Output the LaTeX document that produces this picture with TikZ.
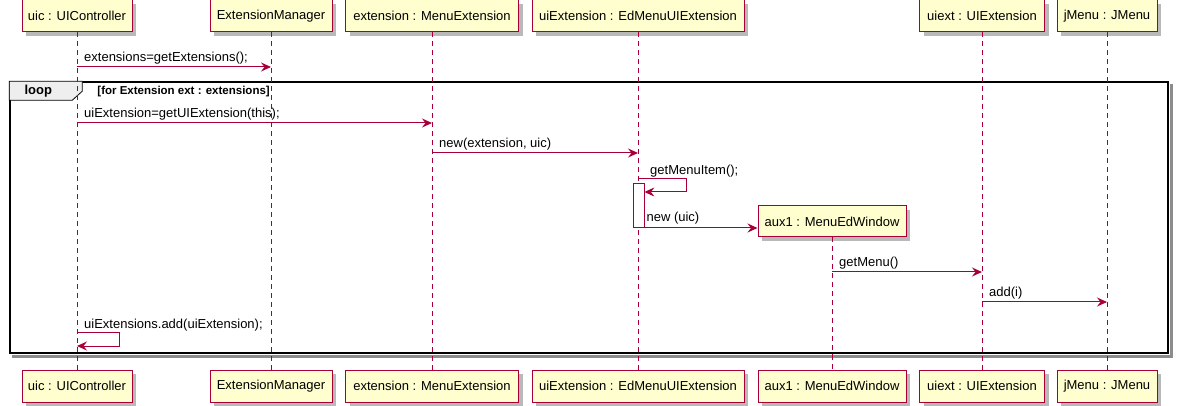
\documentclass[tikz,border=0pt]{standalone}
\usepackage{fontspec}
\setmainfont{Liberation Sans}
\usetikzlibrary{arrows.meta, shadows}
\definecolor{umlred}{HTML}{A80036}
\definecolor{umlfill}{HTML}{FEFECE}
\definecolor{tabgray}{HTML}{EEEEEE}
\tikzset{
  part/.style    ={draw=umlred, fill=umlfill, line width=1pt, minimum height=32pt, inner sep=0pt,
                   font=\fontsize{13}{15}\selectfont,
                   drop shadow={shadow xshift=4pt, shadow yshift=-4pt, fill=black!55, opacity=0.5}},
  life/.style    ={umlred, line width=0.8pt, dash pattern=on 5pt off 4pt},
  msg/.style     ={-{Stealth[length=10pt, width=9pt, inset=3.5pt]}, umlred, line width=1pt},   % call
  mlbl/.style    ={font=\fontsize{13}{15}\selectfont, anchor=base west, inner sep=0pt},
  actbox/.style  ={draw=umlred, fill=white, line width=0.8pt, minimum width=11pt, minimum height=44pt, inner sep=0pt},
  framebox/.style={draw=black, line width=1.5pt, minimum width=1158pt, minimum height=271pt, inner sep=0pt},
  frameshad/.style={black!45, line width=3pt},
  tab/.style     ={draw=black, fill=tabgray, line width=0.8pt},
  flbl/.style    ={font=\bfseries\fontsize{13}{15}\selectfont, inner sep=0pt},
  cond/.style    ={font=\bfseries\fontsize{11.5}{13}\selectfont, anchor=west, inner sep=0pt},
}
\begin{document}
\begin{tikzpicture}[x=1pt, y=-1pt]
  \useasboundingbox (0,0) rectangle (1179,406);

  % loop frame (behind everything)
  \node[framebox] (loop) at (589,217.5) {};
  \draw[frameshad] ([shift={(2.5,3)}]loop.north east) -- ([shift={(2.5,2.5)}]loop.south east)
                   -- ([shift={(3,2.5)}]loop.south west);
  \draw[tab] (loop.north west) -- ++(73,0) -- ++(0,10) -- ++(-10,9) -- ++(-63,0) -- cycle;
  \node[flbl] (looplbl) at ([shift={(29,9.5)}]loop.north west) {loop};
  \node[cond] (loopcond) at ([shift={(88,10)}]loop.north west) {[for Extension ext : extensions]};

  % TOP: participants
  \node[part, minimum width=110pt] (uicT) at (77,16)   {uic : UIController};
  \node[part, minimum width=122pt] (emT)  at (271,16)  {ExtensionManager};
  \node[part, minimum width=173pt] (extT) at (432,16)  {extension : MenuExtension};
  \node[part, minimum width=212pt] (uieT) at (638,16)  {uiExtension : EdMenuUIExtension};
  \node[part, minimum width=125pt] (uixT) at (982,16)  {uiext : UIExtension};
  \node[part, minimum width=100pt] (jmT)  at (1107,16) {jMenu : JMenu};

  % BOTTOM: participants
  \node[part, minimum width=110pt] (uicB) at (77,386)   {uic : UIController};
  \node[part, minimum width=122pt] (emB)  at (271,386)  {ExtensionManager};
  \node[part, minimum width=173pt] (extB) at (432,386)  {extension : MenuExtension};
  \node[part, minimum width=212pt] (uieB) at (638,386)  {uiExtension : EdMenuUIExtension};
  \node[part, minimum width=148pt] (auxB) at (832,386)  {aux1 : MenuEdWindow};
  \node[part, minimum width=125pt] (uixB) at (982,386)  {uiext : UIExtension};
  \node[part, minimum width=100pt] (jmB)  at (1107,386) {jMenu : JMenu};

  % created object
  \node[part, minimum width=148pt, minimum height=31pt] (auxT) at (832,221.5) {aux1 : MenuEdWindow};

  % lifelines
  \draw[life] (uicT) -- (uicB);
  \draw[life] (emT)  -- (emB);
  \draw[life] (extT) -- (extB);
  \draw[life] (uieT) -- (uieB);
  \draw[life] (auxT) -- (auxB);
  \draw[life] (uixT) -- (uixB);
  \draw[life] (jmT)  -- (jmB);

  \node[actbox] (act) at (638.5,205) {};

  % messages
  \draw[msg] (uicT |- 0,67) -- (emT |- 0,67);
  \node[mlbl, xshift=7pt] (m1) at (uicT |- 0,62) {extensions=getExtensions();};

  \draw[msg] (uicT |- 0,123) -- (extT |- 0,123);
  \node[mlbl, xshift=7pt] (m2) at (uicT |- 0,118) {uiExtension=getUIExtension(this);};

  \draw[msg] (extT |- 0,153) -- (uieT |- 0,153);
  \node[mlbl, xshift=7pt] (m3) at (extT |- 0,148) {new(extension, uic)};

  \draw[msg] (uieT |- 0,179) -- ++(48,0) -- ++(0,13) -- (act.east |- 0,192);
  \node[mlbl, xshift=12pt] (m4) at (uieT |- 0,175) {getMenuItem();};

  \draw[msg] (act.east |- 0,228) -- (auxT.west |- 0,228);
  \node[mlbl, xshift=2pt] (m5) at (act.east |- 0,222) {new (uic)};

  \draw[msg] (auxT |- 0,272) -- (uixT |- 0,272);
  \node[mlbl, xshift=7pt] (m6) at (auxT |- 0,267) {getMenu()};

  \draw[msg] (uixT |- 0,302) -- (jmT |- 0,302);
  \node[mlbl, xshift=7pt] (m7) at (uixT |- 0,297) {add(i)};

  \draw[msg] (uicT |- 0,333) -- ++(42,0) -- ++(0,13) -- (uicT |- 0,346);
  \node[mlbl, xshift=7pt] (m8) at (uicT |- 0,328) {uiExtensions.add(uiExtension);};
\end{tikzpicture}
\end{document}
